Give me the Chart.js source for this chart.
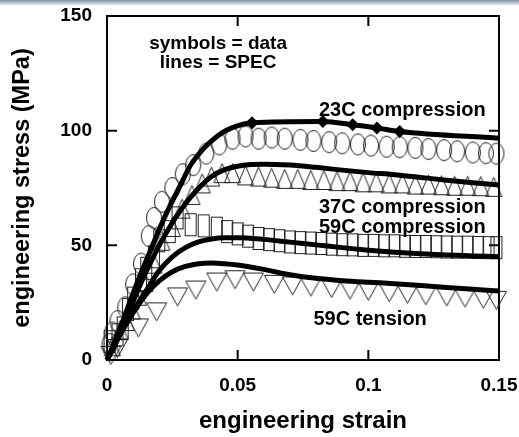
<!DOCTYPE html>
<html>
<head>
<meta charset="utf-8">
<script src="https://cdn.jsdelivr.net/npm/chart.js@4/dist/chart.umd.min.js"></script>
<style>
  body { margin: 0; background: #fff; }
  #wrap { position: relative; width: 519px; height: 437px; }
  #bar { position: absolute; left: 0; top: 0; width: 519px; height: 5px;
         background: linear-gradient(to bottom, #7f8ea6, #b4bfce, #e6e9ee); }
</style>
</head>
<body>
<div id="wrap">
  <canvas id="stressChart" width="519" height="437"></canvas>
  <div id="bar"></div>
</div>
<script>
// SPEC model curves (lines)
const line23x = [0, 0.004, 0.008, 0.012, 0.016, 0.02, 0.024, 0.028, 0.032, 0.036, 0.04, 0.044, 0.048, 0.0555, 0.0826, 0.094, 0.1033, 0.112, 0.15];
const line23y = [0, 11, 23, 35, 46, 57, 67, 76, 85, 91, 95.5, 99, 101.3, 103.4, 104, 102.6, 101.2, 99.6, 96.7];

const line37x = [0, 0.004, 0.008, 0.012, 0.016, 0.02, 0.024, 0.028, 0.032, 0.036, 0.04, 0.045, 0.05, 0.055, 0.06, 0.07, 0.08, 0.09, 0.1, 0.11, 0.12, 0.13, 0.14, 0.15];
const line37y = [0, 9, 20, 31, 41, 50, 58, 65, 71, 76, 80, 83, 84.5, 85.2, 85.4, 85, 84, 82.8, 81.7, 80.8, 79.6, 78.4, 77.3, 76.3];

const line59x = [0, 0.004, 0.008, 0.012, 0.016, 0.02, 0.025, 0.03, 0.035, 0.04, 0.045, 0.05, 0.06, 0.07, 0.08, 0.09, 0.1, 0.11, 0.12, 0.13, 0.14, 0.15];
const line59y = [0, 9, 17, 25, 32, 39, 45, 49, 51.5, 52.8, 53.3, 53.3, 52.6, 51.4, 50.2, 49, 47.9, 47, 46.3, 45.8, 45.4, 45];

const lineTx = [0, 0.004, 0.008, 0.012, 0.016, 0.02, 0.025, 0.03, 0.035, 0.04, 0.045, 0.05, 0.06, 0.07, 0.08, 0.09, 0.1, 0.11, 0.12, 0.13, 0.14, 0.15];
const lineTy = [0, 9, 17, 24, 30, 34.5, 38.5, 40.8, 42, 42.3, 42, 41.4, 39.5, 37.2, 35.6, 34.6, 33.9, 33.3, 32.5, 31.6, 30.8, 30.1];

// measured data (symbols)
const data23x = [0.001, 0.002, 0.004, 0.007, 0.010, 0.013, 0.016, 0.018, 0.021, 0.025, 0.029, 0.033, 0.038, 0.043, 0.048, 0.053, 0.058, 0.063, 0.068, 0.074, 0.079, 0.085, 0.090, 0.096, 0.101, 0.107, 0.112, 0.118, 0.123, 0.129, 0.134, 0.140, 0.145, 0.149];
const data23y = [7, 12, 17, 23, 33, 42, 54, 62, 69, 75, 81, 85, 90, 94, 96.5, 97.5, 96.5, 97, 96.5, 96, 95.5, 95, 94.5, 94, 93.5, 93, 92.8, 92.5, 92, 91.5, 91, 90.5, 90.2, 90];

const data37x = [0.002, 0.005, 0.0075, 0.0096, 0.012, 0.0145, 0.018, 0.021, 0.025, 0.0287, 0.0325, 0.0364, 0.040, 0.044, 0.048, 0.053, 0.058, 0.063, 0.068, 0.073, 0.078, 0.083, 0.088, 0.093, 0.098, 0.103, 0.108, 0.113, 0.118, 0.123, 0.128, 0.133, 0.138, 0.143, 0.148];
const data37y = [6, 13, 17, 22, 28, 34, 42, 52, 58, 66, 72, 77, 80, 81.5, 81.5, 80.5, 80, 79.5, 79, 79, 78.5, 78.5, 78, 78, 77.5, 77.5, 77, 77, 76.5, 76.5, 76.2, 76, 76, 75.8, 75.5];

const data59x = [0.001, 0.004, 0.006, 0.008, 0.010, 0.013, 0.015, 0.018, 0.020, 0.024, 0.027, 0.032, 0.037, 0.042, 0.046, 0.050, 0.054, 0.058, 0.062, 0.066, 0.070, 0.074, 0.078, 0.082, 0.086, 0.090, 0.094, 0.098, 0.102, 0.106, 0.110, 0.114, 0.118, 0.122, 0.126, 0.130, 0.134, 0.138, 0.142, 0.146, 0.149];
const data59y = [8, 11, 14, 22, 27, 35, 40, 45, 52, 56, 62, 59, 58.5, 57.5, 56, 55, 54, 53, 52.5, 52, 51.5, 51.2, 51, 50.8, 50.5, 50.3, 50.2, 50, 50, 49.8, 49.8, 49.6, 49.5, 49.5, 49.4, 49.3, 49.2, 49.2, 49.1, 49, 49];

const dataTx = [0.0015, 0.004, 0.012, 0.019, 0.027, 0.034, 0.042, 0.049, 0.056, 0.064, 0.071, 0.078, 0.086, 0.093, 0.100, 0.108, 0.115, 0.122, 0.130, 0.137, 0.144, 0.149];
const dataTy = [2, 5, 14, 21, 27.5, 30.5, 34, 35, 34, 33, 32.3, 31.8, 31.2, 30.5, 30, 29.3, 28.7, 28, 27.5, 27, 26.5, 26];

const xTicks = [0, 0.05, 0.1, 0.15];
const yTicks = [0, 50, 100, 150];

// text on the plot, in data units
const notes = [
  {text: "symbols = data", x: 0.0425, y: 135.6, align: "center", size: 19},
  {text: "lines = SPEC", x: 0.0425, y: 127.3, align: "center", size: 19},
  {text: "23C compression", x: 0.0811, y: 106.4, align: "left", size: 20},
  {text: "37C compression", x: 0.0811, y: 64.1, align: "left", size: 20},
  {text: "59C compression", x: 0.0811, y: 55.4, align: "left", size: 20},
  {text: "59C tension", x: 0.0790, y: 15.3, align: "left", size: 20}
];

const pairs = (xs, ys) => xs.map((x, i) => ({x: x, y: ys[i]}));

function makeMarker(w, h, draw) {
  const c = document.createElement("canvas");
  c.width = w + 2; c.height = h + 2;
  const g = c.getContext("2d");
  g.strokeStyle = "#222";
  g.lineWidth = 1;
  draw(g, w, h);
  return c;
}
const ellipse = makeMarker(16, 22, (g, w, h) => {
  g.beginPath(); g.ellipse(1 + w / 2, 1 + h / 2, w / 2 - 0.5, h / 2 - 0.5, 0, 0, Math.PI * 2); g.stroke();
});
const triUp = makeMarker(17, 20, (g, w, h) => {
  g.beginPath(); g.moveTo(1 + w / 2, 1.5); g.lineTo(w + 0.5, h + 0.5); g.lineTo(1.5, h + 0.5); g.closePath(); g.stroke();
});
const rect = makeMarker(12, 23, (g, w, h) => {
  g.strokeRect(1.5, 1.5, w - 1, h - 1);
});
const triDown = makeMarker(21, 19, (g, w, h) => {
  g.beginPath(); g.moveTo(1.5, 1.5); g.lineTo(w + 0.5, 1.5); g.lineTo(1 + w / 2, h + 0.5); g.closePath(); g.stroke();
});

const specLine = (pts, extra) => Object.assign({
  data: pts, showLine: true, borderColor: "#000", borderWidth: 5,
  pointRadius: 0, tension: 0.3, cubicInterpolationMode: "monotone", order: 0, clip: false
}, extra || {});
const symbols = (pts, style) => ({
  data: pts, showLine: false, pointStyle: style, pointRadius: 10, order: 1, clip: false
});

// frame with inward ticks on all four sides
const framePlugin = {
  id: "frame",
  beforeDatasetsDraw(chart) {
    const {ctx, chartArea: a, scales: {x, y}} = chart;
    ctx.save();
    ctx.strokeStyle = "#000";
    ctx.lineWidth = 2;
    ctx.strokeRect(a.left, a.top, a.right - a.left, a.bottom - a.top);
    ctx.beginPath();
    xTicks.slice(1, -1).forEach(v => {
      const px = x.getPixelForValue(v);
      ctx.moveTo(px, a.bottom); ctx.lineTo(px, a.bottom - 10);
      ctx.moveTo(px, a.top); ctx.lineTo(px, a.top + 10);
    });
    yTicks.slice(1, -1).forEach(v => {
      const py = y.getPixelForValue(v);
      ctx.moveTo(a.left, py); ctx.lineTo(a.left + 10, py);
      ctx.moveTo(a.right, py); ctx.lineTo(a.right - 10, py);
    });
    ctx.stroke();
    ctx.restore();
  }
};

const notesPlugin = {
  id: "notes",
  afterDatasetsDraw(chart) {
    const {ctx, scales: {x, y}} = chart;
    ctx.save();
    ctx.fillStyle = "#000";
    ctx.textBaseline = "alphabetic";
    notes.forEach(n => {
      ctx.font = "bold " + n.size + "px 'Liberation Sans', Arial, sans-serif";
      ctx.textAlign = n.align;
      ctx.fillText(n.text, x.getPixelForValue(n.x), y.getPixelForValue(n.y));
    });
    ctx.restore();
  }
};

const canvasElement = document.getElementById("stressChart");
const font = {family: "'Liberation Sans', Arial, sans-serif", weight: "bold"};

new Chart(canvasElement, {
  type: "scatter",
  data: {
    datasets: [
      specLine(pairs(line23x, line23y), {
        pointStyle: "rectRot", pointBackgroundColor: "#000", pointBorderColor: "#000",
        pointRadius: ctx => (ctx.dataIndex >= 13 && ctx.dataIndex <= 17) ? 3 : 0
      }),
      specLine(pairs(line37x, line37y)),
      specLine(pairs(line59x, line59y)),
      specLine(pairs(lineTx, lineTy)),
      symbols(pairs(data23x, data23y), ellipse),
      symbols(pairs(data37x, data37y), triUp),
      symbols(pairs(data59x, data59y), rect),
      symbols(pairs(dataTx, dataTy), triDown)
    ]
  },
  options: {
    responsive: false,
    animation: false,
    events: [],
    layout: {padding: {top: 16, right: 20, left: 0, bottom: 0}},
    plugins: {legend: {display: false}, tooltip: {enabled: false}},
    scales: {
      x: {
        type: "linear", min: 0, max: 0.15,
        afterFit: s => { s.height = 77; s.paddingLeft = 0; s.paddingRight = 0; },
        afterBuildTicks: s => { s.ticks = xTicks.map(v => ({value: v})); },
        grid: {display: false, drawTicks: false},
        border: {display: false},
        ticks: {color: "#000", padding: 14, font: Object.assign({size: 19}, font),
                callback: v => String(+v.toFixed(2)), maxRotation: 0},
        title: {display: true, text: "engineering strain", color: "#000",
                font: Object.assign({size: 24}, font), padding: {bottom: 1}}
      },
      y: {
        type: "linear", min: 0, max: 150,
        afterFit: s => { s.width = 107; s.paddingTop = 0; s.paddingBottom = 0; },
        afterBuildTicks: s => { s.ticks = yTicks.map(v => ({value: v})); },
        grid: {display: false, drawTicks: false},
        border: {display: false},
        ticks: {color: "#000", padding: 15, font: Object.assign({size: 19}, font)},
        title: {display: true, text: "engineering stress (MPa)", color: "#000",
                font: Object.assign({size: 23.5}, font), padding: {top: 8}}
      }
    }
  },
  plugins: [framePlugin, notesPlugin]
});
</script>
</body>
</html>
